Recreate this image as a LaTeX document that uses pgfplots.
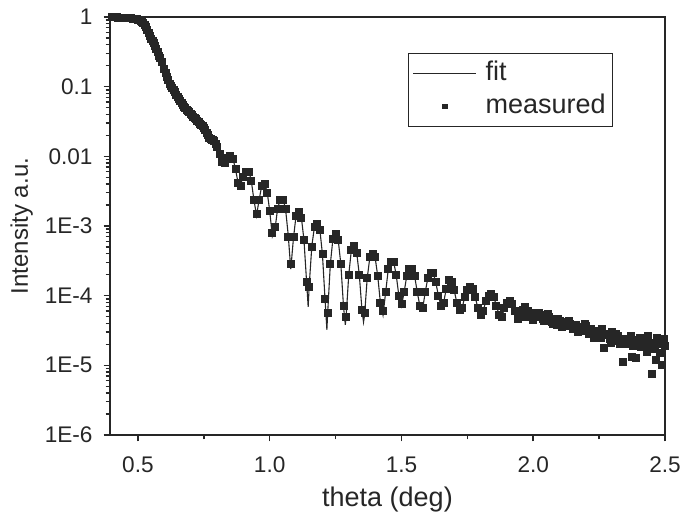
\documentclass[border=0pt]{standalone}
\usepackage{pgfplots}
\pgfplotsset{compat=1.18}
\usepackage{fontspec}
\setmainfont{Liberation Sans}
\definecolor{ink}{HTML}{262626}

% measured reflectivity (theta in deg, intensity a.u.)
\pgfplotstableread{
x y
0.40 0.99
0.41 0.99
0.42 0.99
0.43 0.98
0.44 0.98
0.45 0.97
0.46 0.97
0.47 0.96
0.48 0.95
0.49 0.94
0.50 0.92
0.51 0.89
0.52 0.81
0.53 0.71
0.54 0.60
0.55 0.49
0.56 0.42
0.57 0.35
0.58 0.28
0.59 0.23
0.60 0.18
0.61 0.138
0.62 0.11
0.63 0.095
0.64 0.083
0.65 0.071
0.66 0.062
0.67 0.055
0.68 0.049
0.69 0.045
0.70 0.041
0.71 0.037
0.72 0.034
0.73 0.031
0.74 0.028
0.75 0.026
0.76 0.022
0.77 1.82e-2
0.78 1.74e-2
0.79 1.66e-2
0.80 1.38e-2
0.81 1.10e-2
0.82 8.32e-3
0.83 7.94e-3
0.84 9.55e-3
0.85 1.00e-2
0.86 9.12e-3
0.87 6.61e-3
0.88 4.17e-3
0.89 3.80e-3
0.90 5.01e-3
0.91 6.03e-3
0.92 6.03e-3
0.93 4.47e-3
0.94 2.40e-3
0.95 1.51e-3
0.96 2.40e-3
0.97 3.80e-3
0.98 3.98e-3
0.99 3.02e-3
1.00 1.66e-3
1.01 7.94e-4
1.02 9.55e-4
1.03 1.78e-3
1.04 2.34e-3
1.05 2.40e-3
1.06 1.78e-3
1.07 7.08e-4
1.08 2.82e-4
1.09 7.08e-4
1.10 1.41e-3
1.11 1.62e-3
1.12 1.32e-3
1.13 6.31e-4
1.14 1.58e-4
1.15 1.32e-4
1.16 5.01e-4
1.17 9.55e-4
1.18 1.07e-3
1.19 8.91e-4
1.20 3.98e-4
1.21 8.91e-5
1.22 5.62e-5
1.23 2.82e-4
1.24 6.61e-4
1.25 7.59e-4
1.26 6.31e-4
1.27 2.82e-4
1.28 7.08e-5
1.29 5.01e-5
1.30 2.00e-4
1.31 4.47e-4
1.32 5.13e-4
1.33 4.17e-4
1.34 2.00e-4
1.35 6.31e-5
1.36 5.62e-5
1.37 1.78e-4
1.38 3.55e-4
1.39 3.98e-4
1.40 3.55e-4
1.41 1.91e-4
1.42 7.94e-5
1.43 6.03e-5
1.44 1.12e-4
1.45 2.40e-4
1.46 3.09e-4
1.47 3.02e-4
1.48 2.00e-4
1.49 1.00e-4
1.50 7.59e-5
1.51 1.12e-4
1.52 1.91e-4
1.53 2.40e-4
1.54 2.40e-4
1.55 1.91e-4
1.56 1.12e-4
1.57 7.08e-5
1.58 6.61e-5
1.59 1.12e-4
1.60 1.78e-4
1.61 2.09e-4
1.62 2.14e-4
1.63 1.58e-4
1.64 1.00e-4
1.65 7.24e-5
1.66 7.94e-5
1.67 1.26e-4
1.68 1.66e-4
1.69 1.58e-4
1.70 1.20e-4
1.71 7.94e-5
1.72 6.17e-5
1.73 6.61e-5
1.74 9.55e-5
1.75 1.20e-4
1.76 1.35e-4
1.77 1.26e-4
1.78 9.55e-5
1.79 6.61e-5
1.80 5.25e-5
1.81 6.03e-5
1.82 8.32e-5
1.83 1.00e-4
1.84 1.07e-4
1.85 9.55e-5
1.86 7.24e-5
1.87 5.25e-5
1.88 5.01e-5
1.89 6.61e-5
1.90 7.94e-5
1.91 8.51e-5
1.92 7.59e-5
1.93 6.03e-5
1.94 4.57e-5
1.95 5.25e-5
1.96 6.31e-5
1.97 6.92e-5
1.98 6.03e-5
1.99 5.62e-5
2.00 4.47e-5
2.01 5.01e-5
2.02 5.75e-5
2.03 5.25e-5
2.04 4.37e-5
2.05 4.79e-5
2.06 5.01e-5
2.07 4.17e-5
2.08 4.68e-5
2.09 3.80e-5
2.10 4.37e-5
2.11 3.55e-5
2.12 4.17e-5
2.13 3.63e-5
2.14 3.98e-5
2.15 3.31e-5
2.16 3.80e-5
2.17 3.02e-5
2.18 3.55e-5
2.19 3.16e-5
2.20 3.63e-5
2.21 2.82e-5
2.22 3.31e-5
2.23 2.51e-5
2.24 3.16e-5
2.25 2.75e-5
2.26 3.31e-5
2.27 1.78e-5
2.28 2.82e-5
2.29 2.40e-5
2.30 3.02e-5
2.31 2.24e-5
2.32 2.63e-5
2.33 2.00e-5
2.34 1.12e-5
2.35 2.40e-5
2.36 2.00e-5
2.37 2.63e-5
2.38 1.91e-5
2.39 1.26e-5
2.40 2.19e-5
2.41 1.82e-5
2.42 2.40e-5
2.43 1.58e-5
2.44 2.09e-5
2.45 7.59e-6
2.46 1.74e-5
2.47 2.51e-5
2.48 1.51e-5
2.49 1.00e-5
2.50 1.91e-5
0.405 0.99
0.415 0.99
0.425 0.985
0.435 0.98
0.445 0.975
0.455 0.97
0.465 0.965
0.475 0.955
0.485 0.945
0.495 0.93
0.505 0.905
0.515 0.85
0.525 0.76
0.535 0.66
0.545 0.54
0.555 0.455
0.565 0.385
0.575 0.315
0.585 0.255
0.605 0.158
0.615 0.123
0.625 0.102
0.635 0.089
0.645 0.077
0.655 0.066
0.665 0.058
0.675 0.052
0.685 0.047
0.695 0.043
0.705 0.039
0.715 0.0355
0.725 0.0325
0.735 0.0295
0.745 0.027
0.755 0.024
0.765 0.020
0.775 0.0178
0.785 0.0170
0.795 0.0152
1.955 5.75e-5
1.965 5.01e-5
1.985 5.01e-5
2.015 5.50e-5
2.035 4.57e-5
2.055 5.50e-5
2.075 3.98e-5
2.095 4.57e-5
2.115 3.98e-5
2.135 4.37e-5
2.155 3.63e-5
2.175 3.31e-5
2.195 3.98e-5
2.215 3.16e-5
2.235 2.88e-5
2.255 2.51e-5
2.275 2.75e-5
2.295 2.09e-5
2.315 2.82e-5
2.335 2.40e-5
2.355 2.19e-5
2.375 1.32e-5
2.385 2.29e-5
2.405 2.51e-5
2.425 2.00e-5
2.435 2.63e-5
2.455 1.91e-5
2.465 1.20e-5
2.475 2.00e-5
2.495 2.40e-5
}\measured

% fitted curve
\pgfplotstableread{
x y
0.40 0.99
0.42 0.99
0.44 0.98
0.46 0.97
0.48 0.95
0.50 0.92
0.51 0.89
0.52 0.81
0.53 0.71
0.54 0.60
0.55 0.49
0.56 0.42
0.57 0.35
0.58 0.28
0.59 0.23
0.60 0.18
0.61 0.138
0.62 0.11
0.63 0.095
0.64 0.083
0.65 0.071
0.66 0.062
0.67 0.055
0.68 0.049
0.69 0.045
0.70 0.041
0.71 0.037
0.72 0.034
0.73 3.24e-2
0.74 3.47e-2
0.75 2.82e-2
0.76 2.24e-2
0.77 1.91e-2
0.78 1.91e-2
0.79 1.86e-2
0.80 1.51e-2
0.81 1.12e-2
0.82 8.91e-3
0.83 8.71e-3
0.84 1.05e-2
0.85 1.10e-2
0.86 9.55e-3
0.87 6.61e-3
0.88 4.17e-3
0.89 3.98e-3
0.90 5.25e-3
0.91 6.46e-3
0.92 6.31e-3
0.93 4.47e-3
0.94 2.40e-3
0.95 1.41e-3
0.96 2.40e-3
0.97 3.80e-3
0.98 4.07e-3
0.99 3.16e-3
1.00 1.66e-3
1.01 7.08e-4
1.02 8.91e-4
1.03 1.78e-3
1.04 2.40e-3
1.05 2.45e-3
1.06 1.78e-3
1.07 7.59e-4
1.08 2.40e-4
1.09 6.61e-4
1.10 1.41e-3
1.11 1.66e-3
1.12 1.35e-3
1.13 6.31e-4
1.14 1.58e-4
1.146 6.92e-5
1.15 1.41e-4
1.16 5.25e-4
1.17 9.77e-4
1.18 1.10e-3
1.19 9.12e-4
1.20 3.98e-4
1.21 8.91e-5
1.217 3.24e-5
1.22 5.62e-5
1.23 2.82e-4
1.24 6.61e-4
1.25 7.76e-4
1.26 6.31e-4
1.27 2.82e-4
1.28 7.08e-5
1.287 3.80e-5
1.29 5.01e-5
1.30 2.00e-4
1.31 4.57e-4
1.32 5.25e-4
1.33 4.17e-4
1.34 2.00e-4
1.35 6.31e-5
1.356 4.17e-5
1.36 5.25e-5
1.37 1.78e-4
1.38 3.55e-4
1.39 4.07e-4
1.40 3.55e-4
1.41 1.91e-4
1.42 7.94e-5
1.43 5.25e-5
1.44 1.12e-4
1.45 2.40e-4
1.46 3.16e-4
1.47 3.09e-4
1.48 2.00e-4
1.49 1.00e-4
1.50 7.08e-5
1.51 1.12e-4
1.52 1.91e-4
1.53 2.45e-4
1.54 2.45e-4
1.55 1.91e-4
1.56 1.12e-4
1.57 7.08e-5
1.58 6.31e-5
1.59 1.12e-4
1.60 1.78e-4
1.61 2.09e-4
1.62 2.14e-4
1.63 1.58e-4
1.64 1.00e-4
1.65 7.08e-5
1.66 7.94e-5
1.67 1.26e-4
1.68 1.62e-4
1.69 1.58e-4
1.70 1.20e-4
1.71 7.94e-5
1.72 6.03e-5
1.73 6.61e-5
1.74 9.55e-5
1.75 1.20e-4
1.76 1.32e-4
1.77 1.26e-4
1.78 9.55e-5
1.79 6.61e-5
1.80 5.25e-5
1.81 6.03e-5
1.82 8.32e-5
1.83 1.00e-4
1.84 1.05e-4
1.85 9.55e-5
1.86 7.24e-5
1.87 5.37e-5
1.88 5.01e-5
1.89 6.31e-5
1.90 7.94e-5
1.91 8.51e-5
1.92 7.59e-5
1.93 6.03e-5
1.94 4.79e-5
1.95 5.01e-5
1.97 6.92e-5
1.99 6.31e-5
2.01 4.37e-5
2.03 5.01e-5
2.05 5.62e-5
2.07 5.01e-5
2.09 3.72e-5
2.11 4.17e-5
2.13 4.57e-5
2.15 3.98e-5
2.17 3.16e-5
2.19 3.39e-5
2.21 3.72e-5
2.23 3.31e-5
2.25 2.69e-5
2.27 2.82e-5
2.29 3.02e-5
2.31 2.75e-5
2.33 2.29e-5
2.35 2.40e-5
2.37 2.51e-5
2.39 2.29e-5
2.41 2.00e-5
2.43 2.04e-5
2.45 2.14e-5
2.47 1.95e-5
2.50 1.74e-5
}\fitted

\begin{document}
\begin{tikzpicture}
\begin{axis}[
    scale only axis,
    width=277.5pt, height=209pt,
    xmin=0.394, xmax=2.5,
    ymode=log, ymin=1e-6, ymax=1,
    xtick={0.5,1.0,1.5,2.0,2.5},
    xticklabels={0.5,1.0,1.5,2.0,2.5},
    minor xtick={0.75,1.25,1.75,2.25},
    ytick={1e-6,1e-5,1e-4,1e-3,1e-2,1e-1,1},
    yticklabels={1E-6,1E-5,1E-4,1E-3,0.01,0.1,1},
    minor ytick={2e-6,3e-6,4e-6,5e-6,6e-6,7e-6,8e-6,9e-6,
                 2e-5,3e-5,4e-5,5e-5,6e-5,7e-5,8e-5,9e-5,
                 2e-4,3e-4,4e-4,5e-4,6e-4,7e-4,8e-4,9e-4,
                 2e-3,3e-3,4e-3,5e-3,6e-3,7e-3,8e-3,9e-3,
                 0.02,0.03,0.04,0.05,0.06,0.07,0.08,0.09,
                 0.2,0.3,0.4,0.5,0.6,0.7,0.8,0.9},
    xtick pos=bottom, ytick pos=left,
    tick align=outside,
    major tick length=3.2pt, minor tick length=2.2pt,
    every tick/.style={ink, line width=0.8pt},
    every minor tick/.style={ink, line width=0.7pt},
    axis line style={ink, line width=0.9pt},
    tick label style={font=\fontsize{11.3}{13}\selectfont, text=ink},
    xticklabel shift=4pt,
    yticklabel shift=2pt,
    xlabel={theta (deg)}, ylabel={Intensity a.u.},
    xlabel style={font=\fontsize{13.5}{15}\selectfont, text=ink,
        at={(axis description cs:0.5,-0.155)}, anchor=center},
    ylabel style={font=\fontsize{12}{14}\selectfont, text=ink,
        at={(axis description cs:-0.159,0.5)}, anchor=center},
    legend style={at={(0.537,0.914)}, anchor=north west,
        draw=ink, line width=0.5pt, inner xsep=2pt, inner ysep=2pt,
        font=\fontsize{13.5}{16}\selectfont, text=ink,
        nodes={inner sep=1.5pt, text height=10pt, text depth=3pt},
        row sep=0.5pt, column sep=3pt},
    legend cell align=left,
]
\addplot[ink, line width=0.55pt, no markers,
    legend image code/.code={\draw[ink, line width=0.55pt] (0pt,0pt) -- (31.5pt,0pt);}]
    table[x=x, y=y] {\fitted};
\addlegendentry{fit}
\addplot[only marks, mark=square*, mark size=1.75pt, ink,
    mark options={fill=ink, draw=ink},
    legend image code/.code={\fill[ink] (14.6pt,-1.2pt) rectangle (17pt,1.2pt);}]
    table[x=x, y=y] {\measured};
\addlegendentry{measured}
\end{axis}
\pgfresetboundingbox
\path ([shift={(-55pt,-43.5pt)}]current axis.south west)
    rectangle ([shift={(10pt,8.5pt)}]current axis.north east);
\end{tikzpicture}
\end{document}
